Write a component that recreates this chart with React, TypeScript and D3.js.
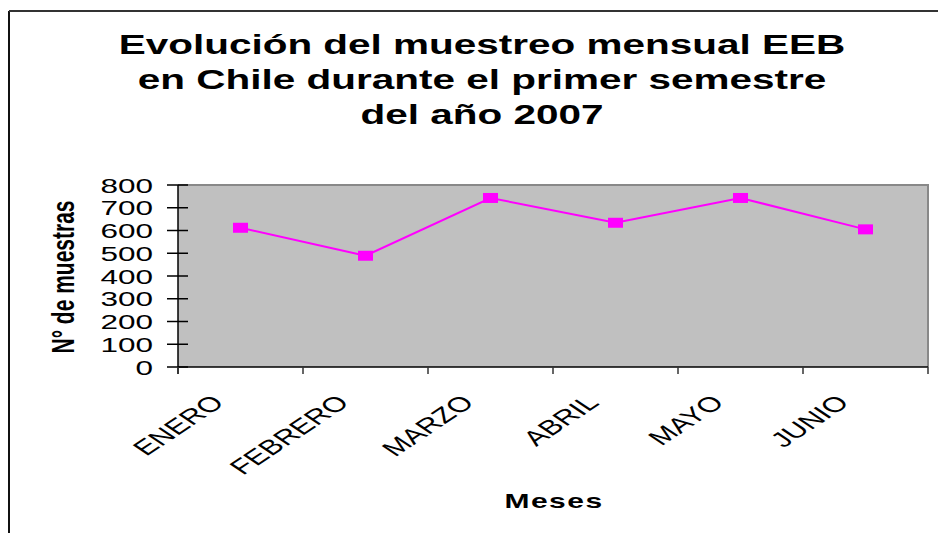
import * as d3 from 'd3';
import React from 'react';

const months = ['ENERO', 'FEBRERO', 'MARZO', 'ABRIL', 'MAYO', 'JUNIO'];
const samples = [612, 489, 743, 634, 743, 605];
const yTicks = [0, 100, 200, 300, 400, 500, 600, 700, 800];
const titleLines = [
  'Evolución del muestreo mensual EEB',
  'en Chile durante el primer semestre',
  'del año 2007',
];

const W = 938;
const H = 533;
const SX = 1.5; // the original picture is stretched sideways
const font = 'Arial, "Liberation Sans", sans-serif';

export default function App() {
  React.useEffect(() => {
    document.body.style.margin = '0';
  }, []);

  const plot = { left: 178, right: 928, top: 185, bottom: 367 };

  const xScale = d3.scaleBand<string>().domain(months).range([plot.left, plot.right]);
  const yScale = d3.scaleLinear().domain([0, 800]).range([plot.bottom, plot.top]);

  const cx = (m: string) => (xScale(m) ?? 0) + xScale.bandwidth() / 2;

  const line = d3
    .line<number>()
    .x((_, i) => cx(months[i]))
    .y((d) => yScale(d));

  const edges = months.map((m) => xScale(m) ?? 0).concat([plot.right]);

  return (
    <svg width={W} height={H} style={{ display: 'block', background: 'white' }}>
      {/* outer chart frame */}
      <line x1={9} y1={11} x2={9} y2={H} stroke='#111' strokeWidth={2} />
      <line x1={9} y1={11} x2={W} y2={11} stroke='#333' strokeWidth={2} />

      {/* title */}
      <g fontFamily={font} fontWeight='bold' fontSize={27} fill='#000'>
        {titleLines.map((t, i) => (
          <text
            key={i}
            transform={`translate(482, ${54 + i * 35}) scale(${SX}, 1)`}
            textAnchor='middle'>
            {t}
          </text>
        ))}
      </g>

      {/* plot area */}
      <rect
        x={plot.left}
        y={plot.top}
        width={plot.right - plot.left}
        height={plot.bottom - plot.top}
        fill='#C0C0C0'
      />
      <polyline
        points={`${plot.left},${plot.top} ${plot.right},${plot.top} ${plot.right},${plot.bottom}`}
        fill='none'
        stroke='#888'
        strokeWidth={2}
      />

      {/* y axis */}
      <line x1={plot.left} y1={plot.top} x2={plot.left} y2={plot.bottom + 7} stroke='#000' strokeWidth={1.5} />
      {yTicks.map((t) => (
        <g key={t}>
          <line x1={167} x2={188} y1={yScale(t)} y2={yScale(t)} stroke='#000' strokeWidth={1.5} />
          <text
            transform={`translate(153, ${yScale(t) + 7.5}) scale(${SX}, 1)`}
            textAnchor='end'
            fontFamily={font}
            fontSize={21}>
            {t}
          </text>
        </g>
      ))}
      <text
        transform={`translate(74, 277) scale(${SX}, 1) rotate(-90)`}
        textAnchor='middle'
        fontFamily={font}
        fontWeight='bold'
        fontSize={21}>
        N° de muestras
      </text>

      {/* x axis */}
      <line x1={plot.left} y1={plot.bottom} x2={plot.right} y2={plot.bottom} stroke='#000' strokeWidth={1.5} />
      {edges.map((x, i) => (
        <line key={i} x1={x} x2={x} y1={plot.bottom} y2={plot.bottom + 7} stroke='#333' strokeWidth={1.5} />
      ))}
      {months.map((m) => (
        <text
          key={m}
          transform={`translate(${cx(m) - 15}, 404) scale(${SX}, 1) rotate(-45)`}
          textAnchor='end'
          fontFamily={font}
          fontSize={21}>
          {m}
        </text>
      ))}
      <text
        transform={`translate(554, 508) scale(${SX}, 1)`}
        textAnchor='middle'
        fontFamily={font}
        fontWeight='bold'
        fontSize={20}
        letterSpacing={1}>
        Meses
      </text>

      {/* series */}
      <path d={line(samples) ?? ''} fill='none' stroke='#FF00FF' strokeWidth={2} />
      {samples.map((v, i) => (
        <rect
          key={i}
          x={cx(months[i]) - 7.5}
          y={yScale(v) - 5}
          width={15}
          height={10}
          fill='#FF00FF'
        />
      ))}
    </svg>
  );
}
